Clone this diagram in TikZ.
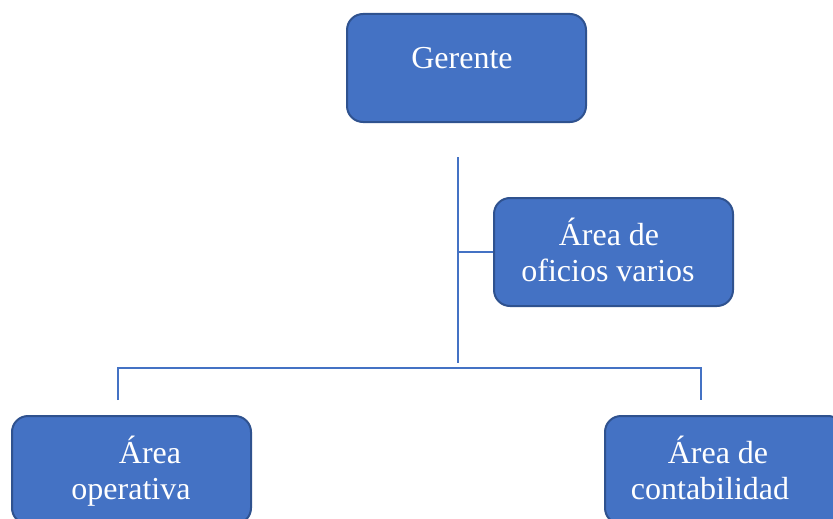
\documentclass[tikz,border=0pt]{standalone}
\usepackage{fontspec}
\setmainfont{Liberation Serif}
\definecolor{boxfill}{HTML}{4472C4}
\definecolor{boxline}{HTML}{2F528F}
\definecolor{conn}{HTML}{4472C4}
\begin{document}
\begin{tikzpicture}[x=1pt,y=-1pt,
  orgbox/.style={draw=boxline, line width=2pt, fill=boxfill, rounded corners=16pt,
    minimum width=239pt, minimum height=108pt, inner sep=0pt},
  lbl/.style={text=white, anchor=base, inner sep=0pt, font=\fontsize{32}{38}\selectfont},
  connector/.style={draw=conn, line width=1.2pt}]
\useasboundingbox (0,0) rectangle (833,519);
\clip (0,0) rectangle (833,519);
% boxes
\node[orgbox] (ger) at (466.5,68) {};
\node[orgbox] (ofi) at (613.5,252) {};
\node[orgbox] (ope) at (131.5,470) {};
\node[orgbox] (con) at (724.5,470) {};
% texts
\node[lbl] (gerT) at (462,69) {Gerente};
\node[lbl] (ofiA) at (609,245) {Área de};
\node[lbl] (ofiB) at (608,281) {oficios varios};
\node[lbl] (opeA) at (150,463) {Área};
\node[lbl] (opeB) at (131,499) {operativa};
\node[lbl] (conA) at (718,463) {Área de};
\node[lbl] (conB) at (710,499) {contabilidad};
% connectors
\coordinate (top) at (458,157);
\coordinate (bot) at (458,363);
\coordinate (hl) at (118,368);
\coordinate (hr) at (701,368);
\coordinate (dl) at (118,400);
\coordinate (dr) at (701,400);
\draw[connector] (top) -- (bot);
\draw[connector] (top |- ofi.west) -- (ofi.west);
\draw[connector] (dl) -- (hl) -- (hr) -- (dr);
\end{tikzpicture}
\end{document}
